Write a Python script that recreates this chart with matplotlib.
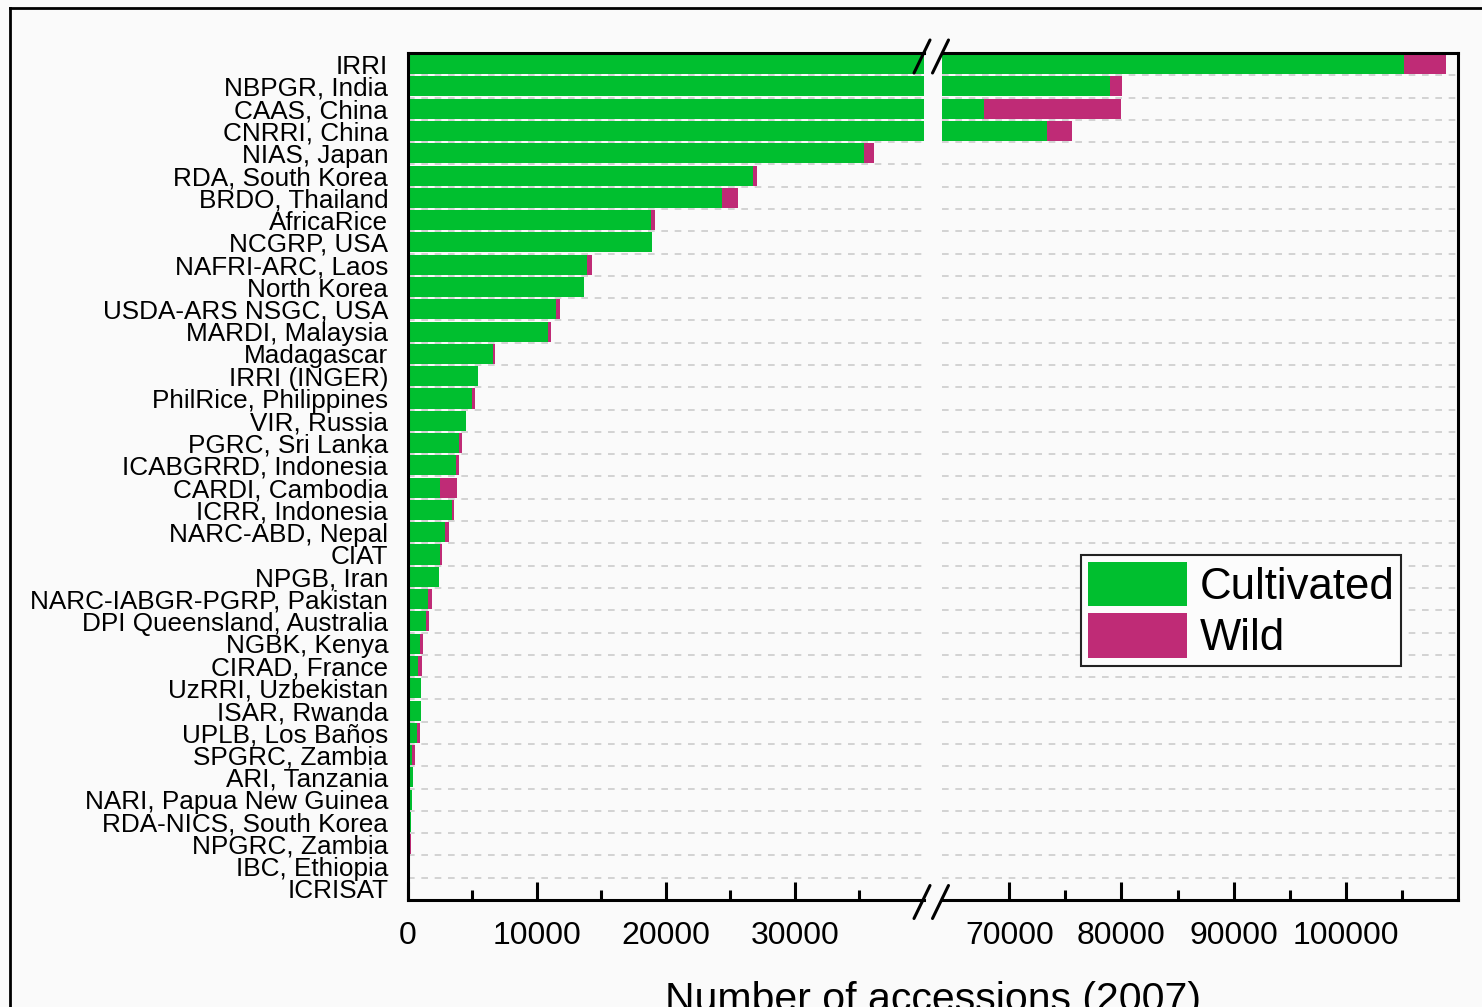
import numpy as np
import matplotlib
matplotlib.use('Agg')
import matplotlib.pyplot as plt
from matplotlib.lines import Line2D

plt.rcParams['font.family'] = ['Liberation Sans', 'DejaVu Sans']

# genebanks, top to bottom
institutes = ['IRRI', 'NBPGR, India', 'CAAS, China', 'CNRRI, China', 'NIAS, Japan',
              'RDA, South Korea', 'BRDO, Thailand', 'AfricaRice', 'NCGRP, USA',
              'NAFRI-ARC, Laos', 'North Korea', 'USDA-ARS NSGC, USA', 'MARDI, Malaysia',
              'Madagascar', 'IRRI (INGER)', 'PhilRice, Philippines', 'VIR, Russia',
              'PGRC, Sri Lanka', 'ICABGRRD, Indonesia', 'CARDI, Cambodia', 'ICRR, Indonesia',
              'NARC-ABD, Nepal', 'CIAT', 'NPGB, Iran', 'NARC-IABGR-PGRP, Pakistan',
              'DPI Queensland, Australia', 'NGBK, Kenya', 'CIRAD, France', 'UzRRI, Uzbekistan',
              'ISAR, Rwanda', 'UPLB, Los Baños', 'SPGRC, Zambia', 'ARI, Tanzania',
              'NARI, Papua New Guinea', 'RDA-NICS, South Korea', 'NPGRC, Zambia',
              'IBC, Ethiopia', 'ICRISAT']
cultivated = [105150, 78980, 67710, 73390, 35350, 26730, 24370, 18820, 18940,
              13910, 13680, 11510, 10840, 6610, 5470, 4985, 4500,
              3955, 3720, 2510, 3410, 2895, 2510, 2405, 1555,
              1400, 960, 830, 1060, 1015, 750, 315, 395,
              340, 285, 0, 0, 0]
wild = [3760, 1110, 12220, 2240, 750, 355, 1190, 360, 0,
        360, 0, 285, 235, 180, 0, 210, 0,
        255, 280, 1290, 180, 335, 175, 0, 310,
        230, 210, 260, 0, 0, 210, 280, 0,
        0, 0, 300, 200, 0]

left_ticks = [0, 10000, 20000, 30000]
left_minor = [5000, 15000, 25000, 35000]
right_ticks = [70000, 80000, 90000, 100000]
right_minor = [75000, 85000, 95000, 105000]

green = '#00BF2F'
magenta = '#BF2B76'
bg = '#fafafa'

W, H = 1482, 1007
fig = plt.figure(figsize=(W / 100, H / 100), dpi=100, facecolor=bg)


def box(x0, y0, x1, y1):
    return [x0 / W, 1 - y1 / H, (x1 - x0) / W, (y1 - y0) / H]


ax1 = fig.add_axes(box(407.6, 53, 924, 900))
ax2 = fig.add_axes(box(942, 53, 1458, 900))

y = np.arange(len(institutes))
for ax in (ax1, ax2):
    ax.set_facecolor(bg)
    ax.barh(y, cultivated, height=0.9, color=green, lw=0, label='Cultivated')
    ax.barh(y, wild, left=cultivated, height=0.9, color=magenta, lw=0, label='Wild')
    ax.set_ylim(len(y) - 0.5, -0.5)
    ax.set_yticks(y + 0.5, minor=True)
    ax.grid(axis='y', which='minor', color='#cccccc', ls=(0, (4, 4)), lw=1.2)
    ax.set_axisbelow(True)
    for s in ax.spines.values():
        s.set_linewidth(2.2)
    ax.tick_params(axis='y', which='both', length=0)
    ax.tick_params(axis='x', which='major', direction='in', length=13, width=2.2,
                   labelsize=23, pad=15)
    ax.tick_params(axis='x', which='minor', direction='in', length=7, width=2.2)

ax1.set_yticks(y, labels=institutes)
ax1.tick_params(axis='y', labelsize=18.8, pad=14)
ax2.set_yticks(y)
ax2.tick_params(axis='y', labelleft=False)

ax1.set_xlim(0, 40000)
ax1.set_xticks(left_ticks, labels=[str(t) for t in left_ticks])
ax1.set_xticks(left_minor, minor=True)
ax2.set_xlim(64000, 110000)
ax2.set_xticks(right_ticks, labels=[str(t) for t in right_ticks])
ax2.set_xticks(right_minor, minor=True)

ax1.spines['right'].set_visible(False)
ax2.spines['left'].set_visible(False)

# break marks
dx, dy = 8 / 516, 16.5 / 847
kw = dict(color='k', lw=2.2, clip_on=False, solid_capstyle='round')
for yc in (1 - 3.5 / 847, -2 / 847):
    ax1.plot([1 - 2 / 516 - dx, 1 - 2 / 516 + dx], [yc - dy, yc + dy], transform=ax1.transAxes, **kw)
    ax2.plot([-1.5 / 516 - dx, -1.5 / 516 + dx], [yc - dy, yc + dy], transform=ax2.transAxes, **kw)

leg = ax2.legend(loc='upper left', bbox_to_anchor=(0.2694, 0.4073), borderaxespad=0,
                 fontsize=31.5, handlelength=2.27, handleheight=1.2, labelspacing=0.12,
                 borderpad=0.15, handletextpad=0.3, fancybox=False, edgecolor='#222222',
                 facecolor='#fcfcfc', framealpha=1)
leg.get_frame().set_linewidth(1.5)

fig.text(933 / W, -0.004, 'Number of accessions (2007)', ha='center', va='baseline',
         fontsize=29.5)

# outer frame
fig.add_artist(Line2D([9.5 / W, 9.5 / W], [0, 1 - 8 / H], color='k', lw=2,
                      transform=fig.transFigure))
fig.add_artist(Line2D([9.5 / W, 1], [1 - 8 / H, 1 - 8 / H], color='k', lw=2,
                      transform=fig.transFigure))

fig.savefig('out.png', dpi=100, facecolor=bg)
